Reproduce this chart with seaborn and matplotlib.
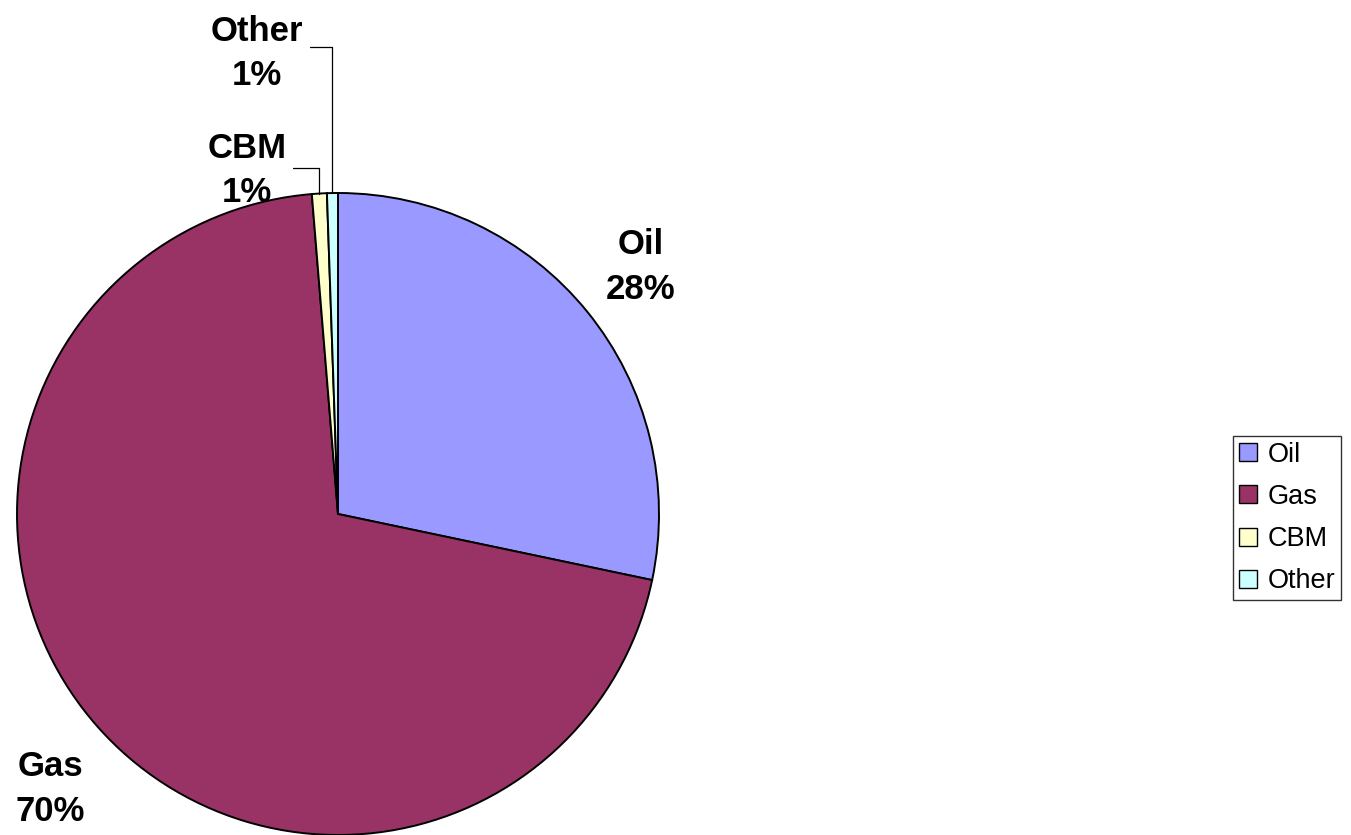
import numpy as np
import matplotlib
matplotlib.use("Agg")
import matplotlib.pyplot as plt
import seaborn as sns

categories = ["Oil", "Gas", "CBM", "Other"]
shares = [28.3, 70.4, 0.75, 0.55]
pct_labels = ["28%", "70%", "1%", "1%"]
colors = ["#9999FF", "#993366", "#FFFFCC", "#CCFFFF"]


def main():
    sns.set_theme(style="white")
    plt.rcParams["font.family"] = ["Liberation Sans", "DejaVu Sans"]

    fig = plt.figure(figsize=(13.51, 8.35), dpi=100)
    ax = fig.add_axes([17 / 1351, 0.0, 642 / 1351, 642 / 835])

    wedges, _ = ax.pie(shares, colors=colors, startangle=90, counterclock=False,
                       wedgeprops=dict(edgecolor="black", linewidth=1.4))
    ax.set_xlim(-1, 1)
    ax.set_ylim(-1, 1)
    ax.set_aspect("equal")
    ax.axis("off")

    font = dict(fontsize=25, fontweight="bold", ha="center", va="center",
                linespacing=1.45, color="black")

    for i, w in enumerate(wedges):
        mid = np.deg2rad((w.theta1 + w.theta2) / 2)
        ex, ey = np.cos(mid), np.sin(mid)
        txt = categories[i] + "\n" + pct_labels[i]
        if categories[i] == "Oil":
            ax.text(1.215 * ex, 1.22 * ey, txt, clip_on=False, **font)
        elif categories[i] == "Gas":
            ax.text(1.235 * ex + 0.03, 1.235 * ey - 0.04, txt, clip_on=False, **font)
        else:
            # small slices: labels stacked above, with leader lines
            if categories[i] == "CBM":
                tx, ty, ly, x0 = -0.283, 1.07, 1.078, -0.14
            else:
                tx, ty, ly, x0 = -0.252, 1.435, 1.455, -0.087
            ax.text(tx, ty, txt, clip_on=False, **font)
            ax.plot([x0, ex, ex], [ly, ly, ey], color="black",
                    linewidth=0.9, clip_on=False)

    handles = [plt.Rectangle((0, 0), 1, 1, facecolor=c, edgecolor="black", linewidth=1)
               for c in colors]
    leg = fig.legend(handles, categories, loc="center left",
                     bbox_to_anchor=(1233 / 1351, 1 - 518 / 835),
                     fontsize=19.5, frameon=True, fancybox=False, shadow=False,
                     handlelength=0.65, handleheight=0.65, handletextpad=0.4,
                     labelspacing=0.6, borderpad=0.22, borderaxespad=0)
    leg.get_frame().set_edgecolor("black")
    leg.get_frame().set_linewidth(1)
    for t in leg.get_texts():
        t.set_color("black")

    fig.savefig("out.png", dpi=100)


if __name__ == "__main__":
    main()
